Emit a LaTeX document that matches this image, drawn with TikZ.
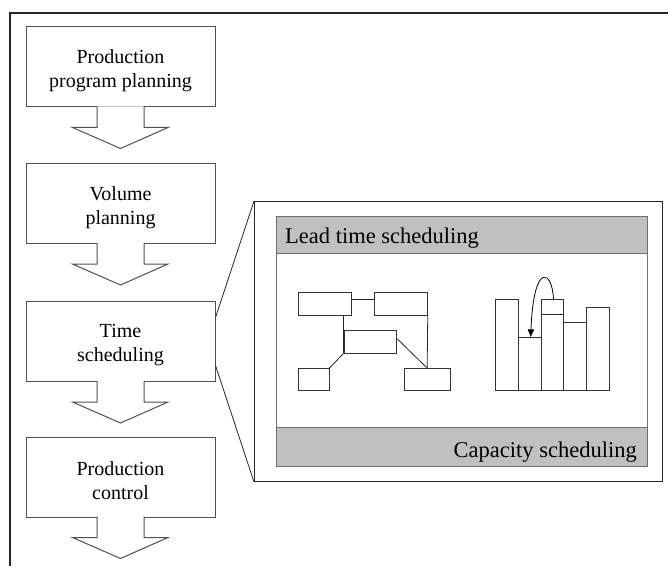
\documentclass[tikz,border=0pt]{standalone}
\usepackage{fontspec}
\setmainfont{Liberation Serif}
\usetikzlibrary{arrows.meta}
\definecolor{linecol}{RGB}{80,80,80}
\definecolor{bandfill}{RGB}{192,192,192}
\definecolor{bandline}{RGB}{110,110,110}
\begin{document}
\begin{tikzpicture}[x=1pt,y=1pt,
  flowbox/.style={draw=linecol, line width=1pt, minimum width=189pt, minimum height=80pt, inner sep=0pt},
  flowtext/.style={align=center, inner sep=0pt, font=\fontsize{20}{24}\selectfont},
  blockarrow/.style={draw=linecol, line width=1pt, fill=white},
  netbox/.style={draw=black!80, line width=0.9pt, minimum height=22.3pt, inner sep=0pt},
  bar/.style={draw=black!80, line width=0.9pt, minimum width=22.8pt, inner sep=0pt, anchor=south west},
  band/.style={draw=bandline, line width=0.9pt, fill=bandfill, minimum width=371pt, inner sep=0pt, anchor=south west},
  bandtext/.style={font=\fontsize{22.5}{26}\selectfont, inner sep=0pt},
  thin/.style={draw=black!85, line width=0.8pt}
]
\useasboundingbox (0,0) rectangle (668,566);
% outer frame
\draw[black!85, line width=1.2pt] (10,0) -- (10,553) -- (668,553);

% flow boxes
\node[flowbox] (pp) at (120.5,499) {};
\node[flowbox] (vp) at (120.5,362.5) {};
\node[flowbox] (ts) at (120.5,224.5) {};
\node[flowbox] (pc) at (120.5,89) {};
\node[flowtext] (ppt) at ([yshift=-4pt]pp.center) {Production\\program planning};
\node[flowtext] (vpt) at ([yshift=-4pt]vp.center) {Volume\\planning};
\node[flowtext] (tst) at ([yshift=-4pt]ts.center) {Time\\scheduling};
\node[flowtext] (pct) at ([yshift=-4pt]pc.center) {Production\\control};

% block arrows
\foreach \b in {pp,vp,ts,pc}{
  \draw[blockarrow] ([xshift=-23.5pt,yshift=1pt]\b.south) -- ++(0,-21) -- ++(-24.5,0)
    -- ([yshift=-41pt]\b.south) -- ([xshift=47.5pt,yshift=-20pt]\b.south)
    -- ++(-24,0) -- ++(0,21);
}

% zoom frame
\node[draw=black!85, line width=0.9pt, minimum width=408pt, minimum height=280pt, inner sep=0pt,
  anchor=south west] (zf) at (254,84) {};
\draw[thin] ([yshift=24pt]ts.east) -- (zf.north west);
\draw[thin] ([yshift=-24pt]ts.east) -- (zf.south west);

% inner panel
\node[draw=bandline, line width=0.9pt, minimum width=371pt, minimum height=250pt, inner sep=0pt,
  anchor=south west] (panel) at (276,99) {};
\node[band, minimum height=37pt] (lead) at (276,312) {};
\node[band, minimum height=39pt] (cap) at (276,99) {};
\node[bandtext, anchor=base west] (leadt) at (285,323) {Lead time scheduling};
\node[bandtext, anchor=base east] (capt) at (637,109) {Capacity scheduling};

% network
\node[netbox, minimum width=53.4pt] (A) at (325,262.2) {};
\node[netbox, minimum width=53pt] (B) at (400.8,262.2) {};
\node[netbox, minimum width=52.7pt] (C) at (370.35,224.2) {};
\node[netbox, minimum width=30.7pt] (D) at (313.65,186.35) {};
\node[netbox, minimum width=45.7pt] (E) at (427.15,186.35) {};
\draw[thin] ([yshift=4pt]A.east) -- ([yshift=4pt]B.west);
\draw[thin] (C.south west) -- (C.south west |- A.south);
\draw[thin] (C.south west) -- (D.north east);
\draw[thin] (B.south east) -- (E.north);
\draw[thin] ([yshift=3pt]C.east) -- (E.north);

% bar chart
\node[bar, minimum height=91pt] (b1) at (495,175) {};
\node[bar, minimum height=52.7pt] (b2) at (517.8,175) {};
\node[bar, minimum height=91pt] (b3) at (540.6,175) {};
\node[bar, minimum height=68.3pt] (b4) at (563.4,175) {};
\node[bar, minimum height=83.3pt] (b5) at (586.2,175) {};
\draw[thin] ([yshift=-15pt]b3.north west) -- ([yshift=-15pt]b3.north east);
\coordinate (as) at ([xshift=1pt]b3.north);
\coordinate (ae) at ([xshift=1pt]b2.north);
\draw[black, line width=0.8pt, -{Latex[length=8pt,width=7pt]}] (as) .. controls ([xshift=-1pt,yshift=29pt]as) and ([xshift=3pt,yshift=77pt]ae) .. (ae);
\end{tikzpicture}
\end{document}
